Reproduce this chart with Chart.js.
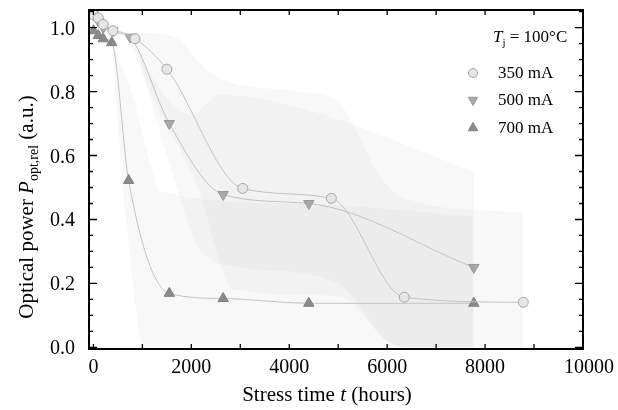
<!DOCTYPE html>
<html><head><meta charset="utf-8">
<script src="https://cdn.jsdelivr.net/npm/chart.js@4.4.1/dist/chart.umd.min.js"></script>
<style>html,body{margin:0;padding:0;background:#fff}#wrap{width:618px;height:410px;position:relative}</style>
</head><body><div id="wrap"><canvas id="c"></canvas></div>
<script>
// ===================== DATOS =====================
const t350=[0,100,200,400,850,1500,3050,4860,6350,8780];
const p350=[1.04,1.03,1.01,0.99,0.965,0.87,0.497,0.466,0.157,0.141];
const t500=[0,100,200,400,750,1550,2650,4400,7770];
const p500=[1.04,1.02,1.0,0.99,0.97,0.70,0.478,0.45,0.25];
const t700=[0,100,200,375,720,1550,2650,4400,7770];
const p700=[0.99,0.975,0.965,0.953,0.522,0.169,0.153,0.138,0.138];

// bandas sombreadas (superior / inferior)
const bandA_upX=[850,1600,2300,2800,4200,5000,5900,6300,8780];
const bandA_upY=[0.985,0.975,0.87,0.83,0.80,0.766,0.525,0.47,0.42];
const bandA_loX=[850,1600,2200,3000,5000,6000,6400,8780];
const bandA_loY=[0.95,0.55,0.3,0.25,0.2,0.02,0,0];
const bandB_upX=[750,1500,2000,2600,4200,7770];
const bandB_upY=[0.97,0.78,0.73,0.79,0.75,0.55];
const bandB_loX=[750,1300,2070,2880,5000,6050,6500,7770];
const bandB_loY=[0.95,0.75,0.525,0.18,0.16,0.015,0,0];
const bandC_upX=[375,810,1150,1360,4200,7770];
const bandC_upY=[0.955,0.785,0.58,0.49,0.45,0.41];
const bandC_loX=[375,500,650,1050,7770];
const bandC_loY=[0.95,0.7,0.42,0,0];

const xTickLabels=['0','2000','4000','6000','8000','10000'];
const yTickLabels=['0.0','0.2','0.4','0.6','0.8','1.0'];
const legendLabels=['350 mA','500 mA','700 mA'];

const FONT='"Liberation Serif","DejaVu Serif",serif';
const pts=(xs,ys)=>xs.map((x,i)=>({x,y:ys[i]}));

// ── series ──
const serie=(xs,ys,style,rot,fillC,lineC,r)=>({
  data:pts(xs,ys),borderColor:'#c2c2c2',borderWidth:1,fill:false,
  cubicInterpolationMode:'monotone',pointStyle:style,pointRotation:rot,pointRadius:r,
  pointBackgroundColor:fillC,pointBorderColor:lineC,pointBorderWidth:1,order:0
});
const banda=(xs,ys,fillTo)=>({
  data:pts(xs,ys),borderWidth:0,borderColor:'rgba(0,0,0,0)',pointRadius:0,
  cubicInterpolationMode:'monotone',
  fill:fillTo,backgroundColor:'rgba(0,0,0,0.026)',order:5
});

const datasets=[
  serie(t350,p350,'circle',0,'#e6e6e6','#a4a4a4',5),
  serie(t500,p500,'triangle',180,'#a8a8a8','#9a9a9a',6),
  serie(t700,p700,'triangle',0,'#8a8a8a','#808080',6),
  banda(bandA_loX,bandA_loY,false),banda(bandA_upX,bandA_upY,'-1'),
  banda(bandB_loX,bandB_loY,false),banda(bandB_upX,bandB_upY,'-1'),
  banda(bandC_loX,bandC_loY,false),banda(bandC_upX,bandC_upY,'-1')
];

// texto con tramos de distinta fuente
function richText(ctx,parts,x,y,align){
  let w=0;
  parts.forEach(p=>{ctx.font=p.f;w+=ctx.measureText(p.t).width;});
  let cx=align==='center'?x-w/2:x;
  parts.forEach(p=>{ctx.font=p.f;ctx.fillText(p.t,cx,y+(p.dy||0));cx+=ctx.measureText(p.t).width;});
}

const marcoPlugin={
  id:'marco',
  afterDraw(chart){
    const {ctx,chartArea:a,scales:{x,y}}=chart;
    ctx.save();
    ctx.strokeStyle='#000';ctx.fillStyle='#000';
    // ticks hacia adentro
    ctx.lineWidth=1.3;
    for(let v=0;v<=10000;v+=1000){
      const px=x.getPixelForValue(v);
      ctx.beginPath();ctx.moveTo(px,a.bottom);ctx.lineTo(px,a.bottom-5);
      ctx.moveTo(px,a.top);ctx.lineTo(px,a.top+5);ctx.stroke();
    }
    for(let i=0;i<=21;i++){
      const v=i*0.05,py=y.getPixelForValue(v),len=(i%4===0)?8:4;
      ctx.beginPath();ctx.moveTo(a.left,py);ctx.lineTo(a.left+len,py);
      ctx.moveTo(a.right,py);ctx.lineTo(a.right-len,py);ctx.stroke();
    }
    ctx.lineWidth=2;
    ctx.strokeRect(a.left,a.top,a.right-a.left,a.bottom-a.top);
    // etiquetas
    ctx.font='20px '+FONT;ctx.textBaseline='alphabetic';ctx.textAlign='center';
    xTickLabels.forEach(l=>ctx.fillText(l,x.getPixelForValue(Number(l))+(l==='10000'?6:0),a.bottom+24));
    ctx.textAlign='right';
    yTickLabels.forEach(l=>ctx.fillText(l,a.left-14,y.getPixelForValue(Number(l))+7));
    ctx.textAlign='left';
    // titulo eje x
    richText(ctx,[{t:'Stress time ',f:'21px '+FONT},{t:'t',f:'italic 21px '+FONT},{t:' (hours)',f:'21px '+FONT}],327,401,'center');
    // titulo eje y
    ctx.save();ctx.translate(33,207);ctx.rotate(-Math.PI/2);
    richText(ctx,[{t:'Optical power ',f:'21px '+FONT},{t:'P',f:'italic 21px '+FONT},
      {t:'opt,rel',f:'14px '+FONT,dy:5},{t:' (a.u.)',f:'21px '+FONT}],0,0,'center');
    ctx.restore();
    // leyenda
    richText(ctx,[{t:'T',f:'italic 17px '+FONT},{t:'j',f:'11px '+FONT,dy:4},{t:' = 100°C',f:'17px '+FONT}],493,42,'left');
    const ly=[73,100,128];
    chart.data.datasets.slice(0,3).forEach((d,i)=>{
      ctx.fillStyle=d.pointBackgroundColor;ctx.strokeStyle=d.pointBorderColor;ctx.lineWidth=1;
      Chart.helpers.drawPoint(ctx,{pointStyle:d.pointStyle,rotation:d.pointRotation,radius:d.pointStyle==='circle'?4.5:5.5,borderWidth:1},473,ly[i]);
      ctx.fillStyle='#000';ctx.font='17px '+FONT;
      ctx.fillText(legendLabels[i],498,ly[i]+5);
    });
    ctx.restore();
  }
};

new Chart(document.getElementById('c'),{
  type:'line',
  data:{datasets},
  options:{
    responsive:true,maintainAspectRatio:false,animation:false,devicePixelRatio:1,
    layout:{padding:{top:10,right:35,left:0,bottom:0}},
    plugins:{legend:{display:false},tooltip:{enabled:false}},
    scales:{
      x:{type:'linear',min:-90,max:10000,grid:{display:false},border:{display:false},
        ticks:{display:false,stepSize:2000},afterFit:s=>{s.height=61;}},
      y:{type:'linear',min:-0.005,max:1.055,grid:{display:false},border:{display:false},
        ticks:{display:false,stepSize:0.2},afterFit:s=>{s.width=89;}}
    }
  },
  plugins:[marcoPlugin]
});
</script>
</body></html>
